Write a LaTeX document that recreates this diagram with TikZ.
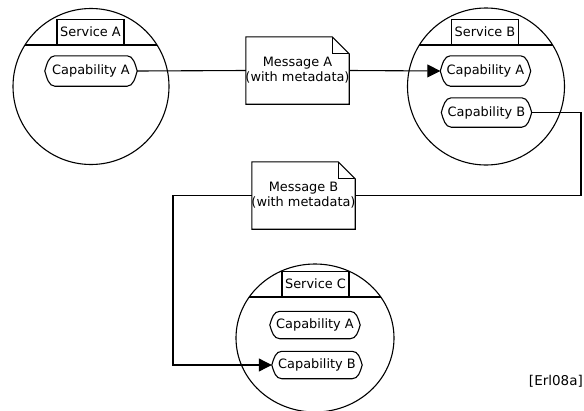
\documentclass[tikz,border=0pt]{standalone}
\usepackage{fontspec}
\setmainfont{DejaVu Sans}
\usetikzlibrary{arrows.meta}

\tikzset{
  base/.style={line width=1.1pt},
  svcbox/.style={base, draw, fill=white, minimum width=67pt, minimum height=25pt, inner sep=0pt, anchor=south},
  capnode/.style={minimum width=90pt, minimum height=29pt, inner sep=0pt},
  msgnode/.style={minimum width=103pt, minimum height=67pt, inner sep=0pt, align=center},
  flow/.style={base, -{Triangle[length=13pt,width=13pt]}},
}

% outline of a capability: flat top and bottom, pointed bulging ends
\newcommand\capoutline[1]{%
  \draw[base]
    ([xshift=10pt]#1.north west) -- ([xshift=-10pt]#1.north east)
    .. controls ([xshift=-4pt]#1.north east) and ([xshift=-2pt,yshift=7pt]#1.east) .. (#1.east)
    .. controls ([xshift=-2pt,yshift=-7pt]#1.east) and ([xshift=-4pt]#1.south east) .. ([xshift=-10pt]#1.south east)
    -- ([xshift=10pt]#1.south west)
    .. controls ([xshift=4pt]#1.south west) and ([xshift=2pt,yshift=-7pt]#1.west) .. (#1.west)
    .. controls ([xshift=2pt,yshift=7pt]#1.west) and ([xshift=4pt]#1.north west) .. cycle;}

% outline of a message: page with a folded corner
\newcommand\msgoutline[1]{%
  \draw[base, fill=white]
    (#1.north west) -- ([xshift=-17pt]#1.north east) -- ([yshift=-17pt]#1.north east)
    -- (#1.south east) -- (#1.south west) -- cycle;
  \draw[base] ([xshift=-17pt]#1.north east) -- ([xshift=-17pt,yshift=-17pt]#1.north east)
    -- ([yshift=-17pt]#1.north east);}

\begin{document}
\begin{tikzpicture}[x=1pt, y=-1pt, font=\fontsize{12.9}{15}\selectfont]
\useasboundingbox (0,0) rectangle (584,410);

% services
\draw[base] (91,86.5) circle (78);
\begin{scope}\clip (91,86.5) circle (78);
  \draw[base] (0,45) -- (200,45);
\end{scope}
\node[svcbox] (svcA) at (90.5,45) {Service A};

\draw[base] (486,86.5) circle (78.5);
\begin{scope}\clip (486,86.5) circle (78.5);
  \draw[base] (400,45) -- (584,45);
\end{scope}
\node[svcbox] (svcB) at (485,45) {Service B};

\draw[base] (315,338) ellipse (79 and 74);
\begin{scope}\clip (315,338) ellipse (79 and 74);
  \draw[base] (220,297) -- (410,297);
\end{scope}
\node[svcbox] (svcC) at (315.5,297) {Service C};

% capabilities
\node[capnode, minimum width=92pt, minimum height=30pt] (capAA) at (91,71) {Capability A};
\node[capnode, minimum height=30pt] (capBA) at (485.5,71) {Capability A};
\node[capnode] (capBB) at (486.5,112.5) {Capability B};
\node[capnode, minimum height=27pt] (capCA) at (315,325) {Capability A};
\node[capnode, minimum height=27pt] (capCB) at (317,365) {Capability B};
\foreach \n in {capAA,capBA,capBB,capCA,capCB} {\capoutline{\n}}

% messages
\node[msgnode] (msgA) at (297.5,70.5) {};
\msgoutline{msgA}
\node[align=center] at (msgA) {Message A\\(with metadata)};
\node[msgnode] (msgB) at (303.5,195.5) {};
\msgoutline{msgB}
\node[align=center] at (msgB) {Message B\\(with metadata)};

% message flow
\coordinate (bendR) at (581,0);
\coordinate (bendL) at (173,0);
\draw[base] (capAA.east) -- (msgA.west);
\draw[flow] (msgA.east) -- (capBA.west);
\draw[base] (capBB.east) -| (bendR |- msgB.east) -- (msgB.east);
\draw[flow] (msgB.west) -| (bendL |- capCB.west) -- (capCB.west);

\node[anchor=east, inner sep=1pt, font=\fontsize{13.5}{16}\selectfont] (ref) at (584,381) {[Erl08a]};
\end{tikzpicture}
\end{document}
